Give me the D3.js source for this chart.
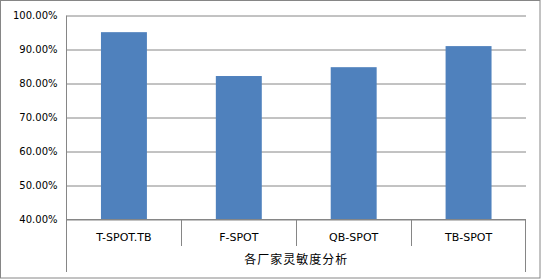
<!DOCTYPE html>
<html>
<head>
<meta charset="utf-8">
<script src="https://cdn.jsdelivr.net/npm/d3@7"></script>
<style>
  body { margin: 0; background: #fff; }
  svg { display: block; }
</style>
</head>
<body>
<script>
// data
let categories = ["T-SPOT.TB", "F-SPOT", "QB-SPOT", "TB-SPOT"];
let sensitivity = [0.951, 0.822, 0.848, 0.910];
let yTicks = [0.4, 0.5, 0.6, 0.7, 0.8, 0.9, 1.0];
let groupTitle = "各厂家灵敏度分析";

let width = 541;
let height = 279;
let lineColor = "#868686";

let svg = d3
  .select("body")
  .append("svg")
  .attr("width", width)
  .attr("height", height);

// outer chart border
svg
  .append("rect")
  .attr("x", 0.5)
  .attr("y", 0.5)
  .attr("width", width - 1.5)
  .attr("height", height - 1.5)
  .attr("fill", "none")
  .attr("stroke", lineColor);

// plot area edges (named to avoid window.top)
let plotLeft = 66.5;
let plotRight = 526;
let plotTop = 15.5;
let plotBottom = 219.5;

let x = d3.scaleBand().domain(categories).range([plotLeft, plotRight]).paddingInner(0).paddingOuter(0);
let y = d3.scaleLinear().domain([0.4, 1.0]).range([plotBottom, plotTop]);

// gridlines + y labels
let yAxis = d3
  .axisLeft(y)
  .tickValues(yTicks)
  .tickSize(-(plotRight - plotLeft))
  .tickPadding(9)
  .tickFormat((d) => (d * 100).toFixed(2) + "%");

svg
  .append("g")
  .attr("transform", `translate(${plotLeft},0)`)
  .call(yAxis)
  .call((g) => g.select(".domain").remove())
  .call((g) => g.selectAll(".tick line").attr("stroke", lineColor))
  .call((g) =>
    g
      .selectAll(".tick text")
      .attr("fill", "#000")
      .attr("font-family", "DejaVu Sans")
      .attr("font-size", "10px")
  );

// bars
let barW = x.bandwidth() * 0.4;
svg
  .append("g")
  .selectAll("rect")
  .data(categories)
  .enter()
  .append("rect")
  .attr("x", (d) => x(d) + (x.bandwidth() - barW) / 2)
  .attr("y", (d, i) => y(sensitivity[i]))
  .attr("width", barW)
  .attr("height", (d, i) => plotBottom - y(sensitivity[i]))
  .attr("fill", "#4f81bd");

// left vertical axis line
svg
  .append("line")
  .attr("x1", plotLeft)
  .attr("x2", plotLeft)
  .attr("y1", plotTop)
  .attr("y2", 272)
  .attr("stroke", lineColor);

// category axis line
svg
  .append("line")
  .attr("x1", plotLeft)
  .attr("x2", plotRight)
  .attr("y1", plotBottom)
  .attr("y2", plotBottom)
  .attr("stroke", lineColor);

// category dividers
let dividers = categories.slice(1).map((c) => Math.round(x(c)) + 0.5);
svg
  .append("g")
  .selectAll("line")
  .data(dividers)
  .enter()
  .append("line")
  .attr("x1", (d) => d)
  .attr("x2", (d) => d)
  .attr("y1", plotBottom)
  .attr("y2", 246)
  .attr("stroke", lineColor);

// right end line of grouped axis
svg
  .append("line")
  .attr("x1", plotRight - 0.5)
  .attr("x2", plotRight - 0.5)
  .attr("y1", plotBottom)
  .attr("y2", 272)
  .attr("stroke", lineColor);

// category labels
svg
  .append("g")
  .selectAll("text")
  .data(categories)
  .enter()
  .append("text")
  .attr("x", (d) => x(d) + x.bandwidth() / 2)
  .attr("y", 240.5)
  .attr("text-anchor", "middle")
  .attr("font-family", "DejaVu Sans")
  .attr("font-size", "11px")
  .attr("fill", "#000")
  .text((d) => d);

// group title
svg
  .append("text")
  .attr("x", (plotLeft + plotRight) / 2)
  .attr("y", 264)
  .attr("text-anchor", "middle")
  .attr("font-family", "Noto Sans CJK SC")
  .attr("font-size", "12px")
  .attr("letter-spacing", "1px")
  .attr("fill", "#000")
  .text(groupTitle);
</script>
</body>
</html>
